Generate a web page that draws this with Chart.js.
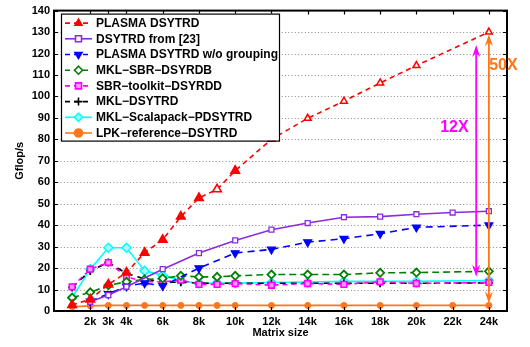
<!DOCTYPE html>
<html>
<head>
<meta charset="utf-8">
<script src="https://cdn.jsdelivr.net/npm/chart.js@4/dist/chart.umd.min.js"></script>
<style>
  html, body { margin: 0; padding: 0; background: #fff; }
  #wrap { width: 530px; height: 347px; }
</style>
</head>
<body>
<div id="wrap"><canvas id="c" width="530" height="347"></canvas></div>
<script>
// Matrix sizes (thousands) used by each run
const sizesAll    = [1, 2, 3, 4, 5, 6, 7, 8, 9, 10, 12, 14, 16, 18, 20, 22, 24];
const sizesMain   = [1, 2, 3, 4, 5, 6, 7, 8, 9, 10, 12, 14, 16, 18, 20, 24];
const sizesPurple = [2, 3, 4, 6, 8, 10, 12, 14, 16, 18, 20, 22, 24];
const sizesBlue   = [2, 3, 4, 5, 6, 8, 10, 12, 14, 16, 18, 20, 24];

// Performance in Gflop/s
const plasmaDsytrd   = [2.8, 5.4, 12.4, 17.9, 27.2, 33.2, 44, 52.7, 56.7, 65.4, 80, 89.8, 97.8, 106.3, 114.4, 130];
const dsytrdRef23    = [4.3, 7.4, 11.3, 19.5, 27, 32.9, 37.9, 41, 43.7, 44, 45.1, 45.9, 46.5];
const plasmaNoGroup  = [4.5, 8, 11.5, 13, 11.7, 20, 27, 28.7, 32.1, 33.7, 36, 39, 40];
const mklSbrDsyrdb   = [6.2, 8.7, 12, 13.6, 14.7, 15.2, 16.4, 15.9, 15.9, 16.4, 17, 17, 17, 17.8, 17.9, 18.5];
const sbrToolkit     = [11.3, 19.5, 22.6, 15.9, 13.6, 13.6, 14.4, 12.4, 12.4, 12.8, 12, 12.8, 12.4, 13.6, 12.8, 13.3];
const mklDsytrd      = [11, 18.7, 22.6, 17.5, 15, 13.5, 13.4, 13, 12.9, 12.9, 12.9, 12.9, 12.9, 12.9, 12.9, 13.1];
const mklScalapack   = [6.3, 19.5, 29.5, 29.5, 18.7, 16.6, 14.2, 12.8, 13, 13, 13.3, 13.5, 13.8, 13.8, 13.8, 14.2];
const lapackRef      = [2, 2.4, 2.6, 2.6, 2.6, 2.6, 2.6, 2.6, 2.6, 2.6, 2.6, 2.6, 2.6, 2.6, 2.6, 2.6, 2.6];

// Axis ticks
const xTickValues = [2, 3, 4, 6, 8, 10, 12, 14, 16, 18, 20, 22, 24];
const yTickValues = [0, 10, 20, 30, 40, 50, 60, 70, 80, 90, 100, 110, 120, 130, 140];

// Speed-up annotations: [size, from, to]
const speedup12 = [23.3, 124, 16];
const speedup50 = [24, 129, 3.5];

const pts = (xs, ys) => xs.map((x, i) => ({ x: x, y: ys[i] }));
const FONT = '"Liberation Sans", Arial, Helvetica, sans-serif';

const datasets = [
  { label: 'PLASMA DSYTRD', data: pts(sizesMain, plasmaDsytrd), borderColor: '#ff0000',
    backgroundColor: sizesMain.map(s => (s <= 10 && s !== 9) ? '#ff0000' : '#ffffff'),
    borderDash: [5, 4], pointStyle: 'triangle',
    pointRadius: sizesMain.map(s => s <= 10 ? 5 : 4), pointBorderWidth: 1.5, mk: { fill: '#ff0000' } },
  { label: 'DSYTRD from [23]', data: pts(sizesPurple, dsytrdRef23), borderColor: '#8a2be2',
    backgroundColor: '#ffffff', borderDash: [], pointStyle: 'rect', pointRadius: 3.5, pointBorderWidth: 1.3,
    mk: { fill: '#ffffff' } },
  { label: 'PLASMA DSYTRD w/o grouping', data: pts(sizesBlue, plasmaNoGroup), borderColor: '#0000ff',
    backgroundColor: '#0000ff', borderDash: [7, 5], pointStyle: 'triangle', rotation: 180,
    pointRadius: 4.5, pointBorderWidth: 1.3, mk: { fill: '#0000ff' } },
  { label: 'MKL\u2212SBR\u2212DSYRDB', data: pts(sizesMain, mklSbrDsyrdb), borderColor: '#008000',
    backgroundColor: '#ffffff', borderDash: [7, 4], pointStyle: 'rectRot', pointRadius: 4,
    pointBorderWidth: 1.8, mk: { fill: '#ffffff' } },
  { label: 'SBR\u2212toolkit\u2212DSYRDD', data: pts(sizesMain, sbrToolkit), borderColor: '#ff00ff',
    backgroundColor: '#ff99ff', borderDash: [5, 4], pointStyle: 'rect', pointRadius: 4,
    pointBorderWidth: 1.6, mk: { fill: '#ff99ff' } },
  { label: 'MKL\u2212DSYTRD', data: pts(sizesMain, mklDsytrd), borderColor: '#000000',
    backgroundColor: '#000000', borderDash: [6, 5], pointStyle: 'cross', pointRadius: 4,
    pointBorderWidth: 1.8, mk: { fill: '#000000' } },
  { label: 'MKL\u2212Scalapack\u2212PDSYTRD', data: pts(sizesMain, mklScalapack), borderColor: '#00ffff',
    backgroundColor: '#aaffff', borderDash: [], pointStyle: 'rectRot', pointRadius: 4.5,
    pointBorderWidth: 1.5, mk: { fill: '#aaffff' } },
  { label: 'LPK\u2212reference\u2212DSYTRD', data: pts(sizesAll, lapackRef), borderColor: '#ff7518',
    backgroundColor: '#ff7518', borderDash: [], pointStyle: 'circle', pointRadius: 3,
    pointBorderWidth: 1, mk: { fill: '#ff7518' } }
];
datasets.forEach(d => { d.borderWidth = 1.6; d.fill = false; d.tension = 0; d.pointBorderColor = d.borderColor; });

// Marker drawing for the legend
function marker(ctx, style, x, y, r, stroke, fill, lw, rot) {
  ctx.save();
  ctx.translate(x, y);
  if (rot) ctx.rotate(rot * Math.PI / 180);
  ctx.setLineDash([]);
  ctx.lineWidth = lw;
  ctx.strokeStyle = stroke;
  ctx.fillStyle = fill;
  ctx.beginPath();
  if (style === 'triangle') {
    ctx.moveTo(0, -r); ctx.lineTo(r * 0.87, r * 0.5); ctx.lineTo(-r * 0.87, r * 0.5); ctx.closePath();
    ctx.fill(); ctx.stroke();
  } else if (style === 'rect') {
    const s = r * 0.75; ctx.rect(-s, -s, 2 * s, 2 * s); ctx.fill(); ctx.stroke();
  } else if (style === 'rectRot') {
    ctx.moveTo(0, -r); ctx.lineTo(r, 0); ctx.lineTo(0, r); ctx.lineTo(-r, 0); ctx.closePath();
    ctx.fill(); ctx.stroke();
  } else if (style === 'cross') {
    ctx.moveTo(-r, 0); ctx.lineTo(r, 0); ctx.moveTo(0, -r); ctx.lineTo(0, r); ctx.stroke();
  } else {
    ctx.arc(0, 0, r, 0, Math.PI * 2); ctx.fill(); ctx.stroke();
  }
  ctx.restore();
}

function arrowHead(ctx, x, y, dir) {
  // dir = -1 pointing up, +1 pointing down
  ctx.beginPath();
  ctx.moveTo(x, y);
  ctx.lineTo(x - 4, y - dir * 12);
  ctx.lineTo(x, y - dir * 8);
  ctx.lineTo(x + 4, y - dir * 12);
  ctx.closePath();
  ctx.fill();
}

const framePlugin = {
  id: 'frame',
  beforeDatasetsDraw(chart) {
    const { ctx, chartArea: a, scales } = chart;
    ctx.save();
    ctx.strokeStyle = '#8c8c8c';
    ctx.lineWidth = 1;
    ctx.setLineDash([1, 2.3]);
    yTickValues.forEach(v => {
      if (v === 0 || v === 140) return;
      const y = Math.round(scales.y.getPixelForValue(v)) + 0.5;
      ctx.beginPath(); ctx.moveTo(a.left, y); ctx.lineTo(a.right, y); ctx.stroke();
    });
    ctx.restore();
  },
  afterDatasetsDraw(chart) {
    const { ctx, chartArea: a, scales } = chart;
    ctx.save();
    ctx.setLineDash([]);
    ctx.strokeStyle = '#000';
    ctx.lineWidth = 1.2;
    yTickValues.forEach(v => {
      const y = Math.round(scales.y.getPixelForValue(v)) + 0.5;
      ctx.beginPath();
      ctx.moveTo(a.left, y); ctx.lineTo(a.left + 4, y);
      ctx.moveTo(a.right, y); ctx.lineTo(a.right - 4, y);
      ctx.stroke();
    });
    xTickValues.forEach(v => {
      const x = Math.round(scales.x.getPixelForValue(v)) + 0.5;
      ctx.beginPath();
      ctx.moveTo(x, a.bottom); ctx.lineTo(x, a.bottom - 4);
      ctx.moveTo(x, a.top); ctx.lineTo(x, a.top + 4);
      ctx.stroke();
    });
    ctx.lineWidth = 2;
    ctx.strokeRect(a.left, a.top, a.right - a.left, a.bottom - a.top);

    // speed-up arrows
    const arrows = [[speedup12, '#ff00ff'], [speedup50, '#ff7518']];
    arrows.forEach(([s, col]) => {
      const x = scales.x.getPixelForValue(s[0]);
      const y1 = scales.y.getPixelForValue(s[1]);
      const y2 = scales.y.getPixelForValue(s[2]);
      ctx.strokeStyle = col; ctx.fillStyle = col; ctx.lineWidth = 1.8;
      ctx.beginPath(); ctx.moveTo(x, y1 + 6); ctx.lineTo(x, y2 - 6); ctx.stroke();
      arrowHead(ctx, x, y1, -1);
      arrowHead(ctx, x, y2, 1);
    });
    ctx.font = 'bold 16px ' + FONT;
    ctx.textBaseline = 'middle';
    ctx.textAlign = 'center';
    ctx.fillStyle = '#ff00ff';
    ctx.fillText('12X', scales.x.getPixelForValue(22.1), scales.y.getPixelForValue(85.5));
    ctx.fillStyle = '#ff7518';
    ctx.fillText('50X', scales.x.getPixelForValue(24.8), scales.y.getPixelForValue(114.5));
    ctx.restore();
  },
  afterDraw(chart) {
    const { ctx, chartArea: a } = chart;
    const bx = a.left + 7, by = a.top + 3, bw = 218, bh = 127;
    ctx.save();
    ctx.setLineDash([]);
    ctx.fillStyle = '#fff';
    ctx.fillRect(bx, by, bw, bh);
    ctx.strokeStyle = '#000';
    ctx.lineWidth = 1.2;
    ctx.strokeRect(bx + 0.5, by + 0.5, bw, bh);
    ctx.font = 'bold 12px ' + FONT;
    ctx.textBaseline = 'middle';
    ctx.textAlign = 'left';
    chart.data.datasets.forEach((d, i) => {
      const y = by + 9.5 + i * 15.7;
      const x0 = bx + 4, x1 = bx + 31, xm = (x0 + x1) / 2;
      ctx.strokeStyle = d.borderColor;
      ctx.lineWidth = 1.6;
      ctx.setLineDash(d.borderDash.length ? [5, 4] : []);
      ctx.beginPath(); ctx.moveTo(x0, y); ctx.lineTo(x1, y); ctx.stroke();
      marker(ctx, d.pointStyle, xm, y, 4, d.borderColor, d.mk.fill, 1.6, d.rotation || 0);
      ctx.fillStyle = '#000';
      ctx.fillText(d.label, bx + 35, y + 0.5);
    });
    ctx.restore();
  }
};

new Chart(document.getElementById('c'), {
  type: 'line',
  data: { datasets: datasets },
  options: {
    responsive: false,
    animation: false,
    devicePixelRatio: 1,
    layout: { padding: { top: 9, right: 23, left: 0, bottom: 0 } },
    plugins: { legend: { display: false }, tooltip: { enabled: false } },
    scales: {
      x: {
        type: 'linear', min: 0, max: 25,
        grid: { display: false, drawTicks: false },
        border: { display: false },
        afterBuildTicks: s => { s.ticks = xTickValues.map(v => ({ value: v })); },
        afterFit: s => { s.height = 36; },
        ticks: { color: '#000', padding: 4, maxRotation: 0, autoSkip: false,
                 font: { family: FONT, size: 11, weight: 'bold' }, callback: v => v + 'k' },
        title: { display: true, text: 'Matrix size', color: '#000', padding: { top: 0, bottom: 7 },
                 font: { family: FONT, size: 11, weight: 'bold' } }
      },
      y: {
        min: 0, max: 140,
        grid: { display: false, drawTicks: false },
        border: { display: false },
        afterBuildTicks: s => { s.ticks = yTickValues.map(v => ({ value: v })); },
        afterFit: s => { s.width = 54; },
        ticks: { color: '#000', padding: 4, font: { family: FONT, size: 11, weight: 'bold' } },
        title: { display: true, text: 'Gflop/s', color: '#000', padding: { top: 13, bottom: 0 },
                 font: { family: FONT, size: 11, weight: 'bold' } }
      }
    }
  },
  plugins: [framePlugin]
});
</script>
</body>
</html>
